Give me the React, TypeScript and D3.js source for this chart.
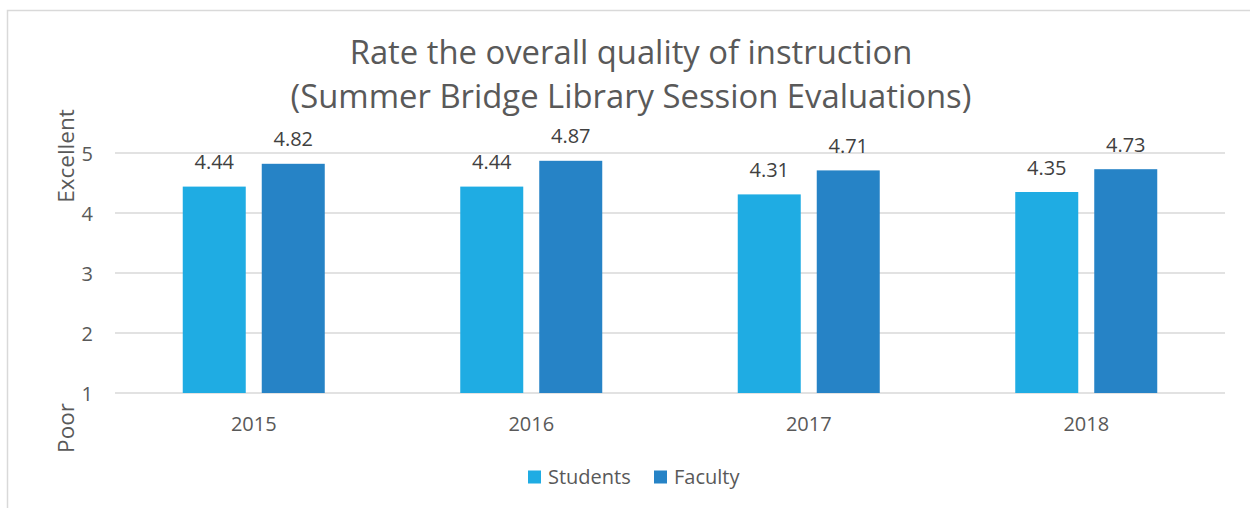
import React from "react";
import * as d3 from "d3";

const categories = ["2015", "2016", "2017", "2018"];
const seriesNames = ["Students", "Faculty"];
const students = [4.44, 4.44, 4.31, 4.35];
const faculty = [4.82, 4.87, 4.71, 4.73];
const yTicks = [1, 2, 3, 4, 5];
const colors = ["#1FACE3", "#2683C6"];

export default function App() {
  const W = 1250, H = 508;
  const left = 115, right = 1225, top = 153, bottom = 393;
  const font = "'Open Sans', sans-serif";
  const x = d3.scaleBand().domain(categories).range([left, right]).paddingInner(0).paddingOuter(0);
  const y = d3.scaleLinear().domain([1, 5]).range([bottom, top]);
  const barW = 63, gap = 16;
  const series = [students, faculty];
  return (
    <svg width={W} height={H} style={{ position: "absolute", left: 0, top: 0 }}>
      <rect x={7.5} y={10.5} width={1260} height={520} fill="#fff" stroke="#d9d9d9" strokeWidth={1.5} />
      <text x={631} y={64} textAnchor="middle" fontFamily={font} fontSize={32.8} fill="#595959">Rate the overall quality of instruction</text>
      <text x={631} y={108} textAnchor="middle" fontFamily={font} fontSize={32.8} fill="#595959">(Summer Bridge Library Session Evaluations)</text>
      {yTicks.map((t) => (
        <g key={t}>
          <line x1={left} x2={right} y1={y(t)} y2={y(t)} stroke="#d9d9d9" strokeWidth={1.5} />
          <text x={93} y={y(t) + 7.5} textAnchor="end" fontFamily={font} fontSize={20} fill="#595959">{t}</text>
        </g>
      ))}
      <text transform={`translate(74,156) rotate(-90)`} textAnchor="middle" fontFamily={font} fontSize={22.5} fill="#595959">Excellent</text>
      <text transform={`translate(74,428) rotate(-90)`} textAnchor="middle" fontFamily={font} fontSize={22.5} fill="#595959">Poor</text>
      {categories.map((c, i) => {
        const cx = (x(c) as number) + x.bandwidth() / 2;
        return (
          <g key={c}>
            {series.map((s, j) => {
              const bx = j === 0 ? cx - gap / 2 - barW : cx + gap / 2;
              return (
                <g key={j}>
                  <rect x={bx} y={y(s[i])} width={barW} height={y(1) - y(s[i])} fill={colors[j]} />
                  <text x={bx + barW / 2} y={y(s[i]) - 17.5} textAnchor="middle" fontFamily={font} fontSize={20} fill="#404040">{s[i].toFixed(2)}</text>
                </g>
              );
            })}
            <text x={cx} y={431} textAnchor="middle" fontFamily={font} fontSize={20} fill="#595959">{c}</text>
          </g>
        );
      })}
      {seriesNames.map((n, j) => {
        const lx = j === 0 ? 528 : 654;
        return (
          <g key={n}>
            <rect x={lx} y={470.5} width={13} height={13} fill={colors[j]} />
            <text x={lx + 20} y={484} fontFamily={font} fontSize={20} fill="#595959">{n}</text>
          </g>
        );
      })}
    </svg>
  );
}
